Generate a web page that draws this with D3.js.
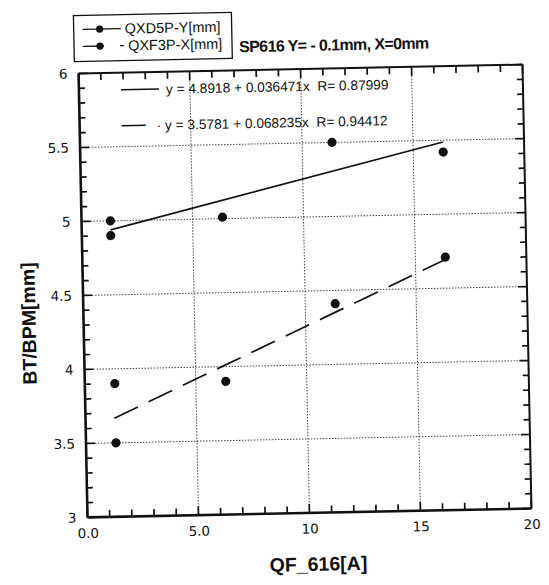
<!DOCTYPE html>
<html>
<head>
<meta charset="utf-8">
<script src="https://cdn.jsdelivr.net/npm/d3@7"></script>
<style>
  body { margin: 0; background: #fff; }
  svg text { font-family: "Liberation Sans", Arial, sans-serif; fill: #111; }
  .lbl text { font-family: "DejaVu Sans", sans-serif; font-size: 13.5px; fill: #111; }
  .grid line { stroke: #333; stroke-width: 0.9; stroke-dasharray: 1.5,1.5; }
</style>
</head>
<body>
<svg id="chart" width="549" height="585"></svg>
<script>
// data
var xTicks = [0, 5, 10, 15, 20];
var xTickLabels = ["0.0", "5.0", "10", "15", "20"];
var yTicks = [3, 3.5, 4, 4.5, 5, 5.5, 6];
var yTickLabels = ["3", "3.5", "4", "4.5", "5", "5.5", "6"];

var seriesNames = ["QXD5P-Y[mm]", "QXF3P-X[mm]"];
var qxd5pX = [1.3, 1.3, 6.35, 11.35, 16.35];
var qxd5pY = [5.0, 4.9, 5.01, 5.5, 5.42];
var qxf3pX = [1.35, 1.35, 6.35, 11.35, 16.35];
var qxf3pY = [3.9, 3.5, 3.9, 4.41, 4.71];

// linear fits printed on the chart
var fitA = [4.8918, 3.5781];
var fitB = [0.036471, 0.068235];
var fitR = ["0.87999", "0.94412"];
var fitRange = [1.3, 16.35];

var title = "SP616 Y= - 0.1mm, X=0mm";

var margin = {top: 69, left: 83},
    width = 444,
    height = 444;

var svg = d3.select("#chart");
// the scan is slightly tilted
var root = svg.append("g").attr("transform", "rotate(-1.15,305,291)");

var x = d3.scaleLinear().domain([0, 20]).range([0, width]);
var y = d3.scaleLinear().domain([3, 6]).range([height, 0]);

var g = root.append("g").attr("transform", "translate(" + margin.left + "," + margin.top + ")");

// grid
g.append("g").attr("class", "grid")
  .selectAll("line").data(xTicks.slice(1, -1)).enter().append("line")
  .attr("x1", d => x(d)).attr("x2", d => x(d)).attr("y1", 0).attr("y2", height);
g.append("g").attr("class", "grid")
  .selectAll("line").data(yTicks.slice(1, -1)).enter().append("line")
  .attr("y1", d => y(d)).attr("y2", d => y(d)).attr("x1", 0).attr("x2", width);

// minor + major tick marks, inward on all sides
var xMinor = d3.range(0, 21, 1);
var yMinor = d3.range(30, 61, 1).map(d => d / 10);
function lenX(d) { return xTicks.indexOf(d) >= 0 ? 9 : 7; }
function lenY(d) { return yTicks.indexOf(d) >= 0 ? 9 : 6; }

var mk = g.append("g").attr("stroke", "#111").attr("stroke-width", 1.7);
xMinor.forEach(function(d) {
  mk.append("line").attr("x1", x(d)).attr("x2", x(d))
    .attr("y1", height).attr("y2", height - lenX(d));
  mk.append("line").attr("x1", x(d)).attr("x2", x(d))
    .attr("y1", 0).attr("y2", lenX(d));
});
yMinor.forEach(function(d) {
  mk.append("line").attr("y1", y(d)).attr("y2", y(d))
    .attr("x1", 0).attr("x2", lenY(d));
  mk.append("line").attr("y1", y(d)).attr("y2", y(d))
    .attr("x1", width).attr("x2", width - lenY(d));
});

// frame
g.append("line").attr("x1", 0).attr("x2", 0).attr("y1", 0).attr("y2", height)
  .attr("stroke", "#111").attr("stroke-width", 2.6);
g.append("line").attr("x1", 0).attr("x2", width).attr("y1", height).attr("y2", height)
  .attr("stroke", "#111").attr("stroke-width", 2.6);
g.append("line").attr("x1", 0).attr("x2", width).attr("y1", 0).attr("y2", 0)
  .attr("stroke", "#111").attr("stroke-width", 2);
g.append("line").attr("x1", width).attr("x2", width).attr("y1", 0).attr("y2", height)
  .attr("stroke", "#111").attr("stroke-width", 2);

// tick labels
var xl = g.append("g").attr("class", "lbl").attr("transform", "translate(0," + height + ")")
  .call(d3.axisBottom(x).tickValues(xTicks).tickSize(0).tickPadding(11)
    .tickFormat((d, i) => xTickLabels[i]));
xl.select(".domain").remove();
var yl = g.append("g").attr("class", "lbl")
  .call(d3.axisLeft(y).tickValues(yTicks).tickSize(0).tickPadding(11)
    .tickFormat((d, i) => yTickLabels[i]));
yl.select(".domain").remove();

// fit lines
var dashes = [null, "26,12"];
[0, 1].forEach(function(i) {
  g.append("line")
    .attr("x1", x(fitRange[0])).attr("y1", y(fitA[i] + fitB[i] * fitRange[0]))
    .attr("x2", x(fitRange[1])).attr("y2", y(fitA[i] + fitB[i] * fitRange[1]))
    .attr("stroke", "#111").attr("stroke-width", 1.7)
    .attr("stroke-dasharray", dashes[i]);
});

// points
var pts = qxd5pX.map((d, i) => [d, qxd5pY[i]]).concat(qxf3pX.map((d, i) => [d, qxf3pY[i]]));
g.selectAll("circle.pt").data(pts).enter().append("circle").attr("class", "pt")
  .attr("cx", d => x(d[0])).attr("cy", d => y(d[1])).attr("r", 4.6).attr("fill", "#111");

// equations
var eq = g.append("g").style("font-family", "'DejaVu Sans', sans-serif").style("font-size", "13.7px");
[0, 1].forEach(function(i) {
  var yy = i === 0 ? 17 : 53;
  eq.append("line").attr("x1", 42).attr("x2", i === 0 ? 80 : 66).attr("y1", yy).attr("y2", yy)
    .attr("stroke", "#111").attr("stroke-width", 1.5);
  eq.append("text").attr("x", i === 0 ? 87 : 77).attr("y", yy + 5)
    .attr("xml:space", "preserve")
    .text((i === 1 ? "· " : "") + "y = " + fitA[i] + " + " + fitB[i] + "x  R= " + fitR[i]);
});

// axis titles
root.append("text").attr("transform", "translate(35,318) rotate(-90)")
  .attr("text-anchor", "middle").style("font-size", "19.5px").style("font-weight", "bold")
  .text("BT/BPM[mm]");
root.append("text").attr("x", 313).attr("y", 571)
  .attr("text-anchor", "middle").style("font-size", "19.5px").style("font-weight", "bold")
  .text("QF_616[A]");

// title
root.append("text").attr("x", 244).attr("y", 51)
  .style("font-size", "16px").style("font-weight", "bold").style("letter-spacing", "-0.6px")
  .text(title);

// legend
var lg = root.append("g").attr("transform", "translate(79,11)");
lg.append("rect").attr("width", 158).attr("height", 46)
  .attr("fill", "none").attr("stroke", "#111").attr("stroke-width", 1.3);
seriesNames.forEach(function(name, i) {
  var yy = 14 + i * 17;
  lg.append("line").attr("x1", 9).attr("x2", i === 0 ? 47 : 30).attr("y1", yy).attr("y2", yy)
    .attr("stroke", "#111").attr("stroke-width", 1.3);
  if (i === 1) {
    lg.append("line").attr("x1", 46).attr("x2", 50).attr("y1", yy).attr("y2", yy)
      .attr("stroke", "#111").attr("stroke-width", 1.3);
  }
  lg.append("circle").attr("cx", 26).attr("cy", yy).attr("r", 3.6).attr("fill", "#111");
  lg.append("text").attr("x", i === 0 ? 51 : 54).attr("y", yy + 5)
    .style("font-size", "14.5px").text(name);
});
</script>
</body>
</html>
